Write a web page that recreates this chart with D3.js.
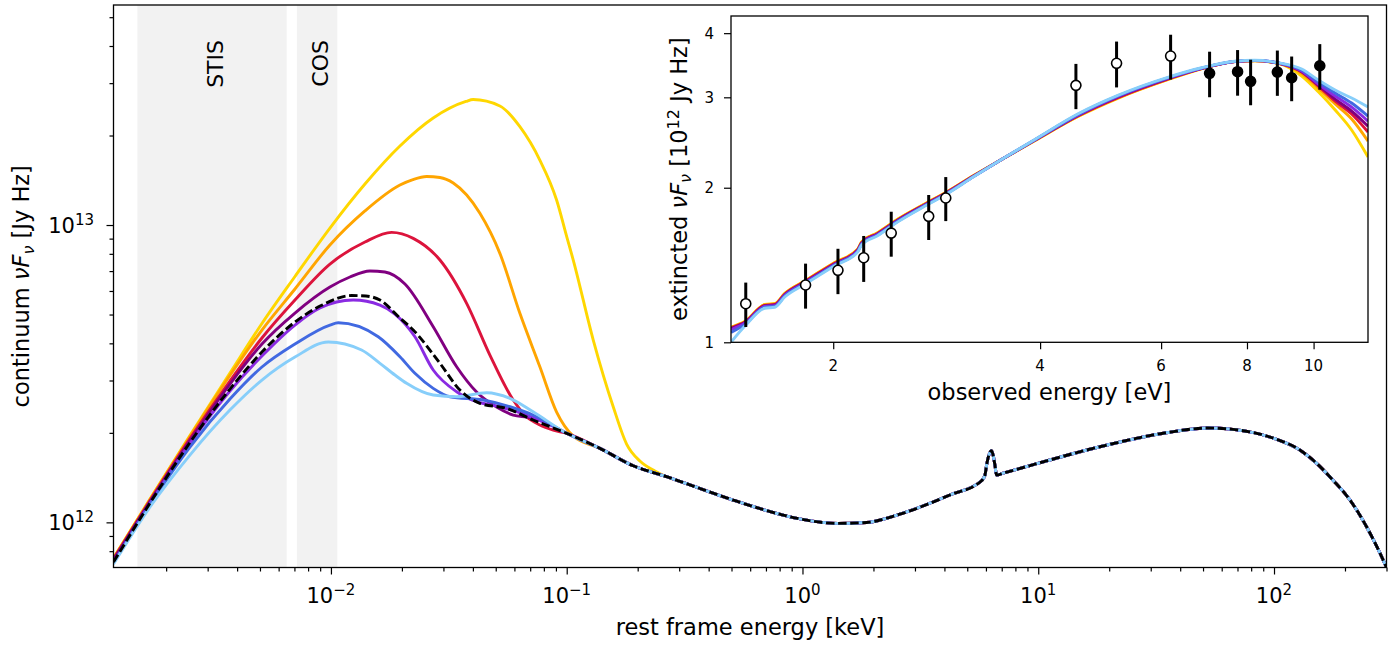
<!DOCTYPE html>
<html>
<head>
<meta charset="utf-8">
<script src="https://cdn.jsdelivr.net/npm/d3@7"></script>
<style>
body { margin: 0; background: #fff; }
svg { font-family: "DejaVu Sans", sans-serif; }
</style>
</head>
<body>
<div id="chart"></div>
<script>
// ---- main panel data: rest frame energy [keV], continuum nuFnu [10^12 Jy Hz]
// shared high-energy part (all models coincide here)
var tail = [[0.1,1.993],[0.1383,1.774],[0.1914,1.55],[0.2653,1.424],[0.311,1.363],[0.507,1.189],
    [0.828,1.058],[1.0,1.023],[1.413,0.992],[1.87,0.999],[2.588,1.066],[4.218,1.236],[5.75,1.38],
    [5.94,1.44],[6.04,1.56],[6.17,1.68],[6.34,1.742],[6.45,1.67],[6.55,1.558],[6.66,1.442],[7.1,1.463],
    [9.96,1.579],[18.25,1.796],[35.0,2.002],[52.5,2.076],[66.9,2.055],[99.8,1.917],[128.7,1.751],
    [151.7,1.579],[177.6,1.388],[210,1.189],[246.9,0.9665],[281.5,0.788],[299.5,0.7074]];

// low-energy part of each model, before it joins the tail
var goldLow = [[0.001196,0.759],[0.001708,1.198],[0.002523,1.959],[0.003729,3.178],[0.005097,4.664],
    [0.007037,6.712],[0.009903,9.77],[0.01394,13.74],[0.01962,18.44],[0.02715,22.9],[0.03737,26.03],
    [0.0401,26.43],[0.05207,25.14],[0.0633,21.41],[0.0769,16.54],[0.0906,12.14],[0.1,9.147],[0.1066,7.626],
    [0.1296,4.104],[0.1575,2.448],[0.1795,1.834],[0.2044,1.608],[0.2366,1.488]];
var orangeLow = [[0.001196,0.7556],[0.001708,1.193],[0.002523,1.944],[0.003729,3.118],[0.005097,4.435],
    [0.007037,6.092],[0.009903,8.565],[0.01394,11.15],[0.01962,13.63],[0.02227,14.22],[0.02546,14.56],
    [0.029,14.45],[0.03302,13.84],[0.04284,10.95],[0.05207,8.03],[0.0633,5.047],[0.07694,3.337],
    [0.09062,2.35],[0.1066,1.951]];
var crimsonLow = [[0.001196,0.7527],[0.001708,1.184],[0.002523,1.914],[0.003729,2.988],[0.005097,4.169],
    [0.007037,5.594],[0.009903,7.392],[0.01394,8.766],[0.01809,9.45],[0.02234,9.02],[0.029,7.626],
    [0.03763,5.453],[0.04723,3.653],[0.05931,2.579],[0.0676,2.266],[0.07694,2.125],[0.08764,2.044]];
var purpleLow = [[0.001196,0.7468],[0.001708,1.175],[0.002523,1.884],[0.003729,2.919],[0.005097,3.979],
    [0.007037,5.058],[0.009903,6.186],[0.01204,6.686],[0.01463,7.004],[0.01694,6.949],[0.0206,6.333],
    [0.02715,4.55],[0.03413,3.337],[0.04148,2.744],[0.05042,2.442],[0.05931,2.296],[0.0676,2.261],
    [0.07694,2.226],[0.08764,2.109]];
var violetLow = [[0.001196,0.7327],[0.001708,1.157],[0.002523,1.841],[0.003729,2.765],[0.005097,3.626],
    [0.007037,4.609],[0.008982,5.259],[0.01243,5.594],[0.01614,5.382],[0.01868,5.019],[0.02271,4.21],
    [0.02715,3.253],[0.03413,2.75],[0.04148,2.545],[0.05207,2.448],[0.0676,2.296],[0.08488,2.125]];
var royalLow = [[0.001196,0.7298],[0.001708,1.148],[0.002523,1.792],[0.003729,2.598],[0.005097,3.33],
    [0.007037,3.979],[0.009903,4.609],[0.01074,4.691],[0.01587,4.21],[0.01962,3.606],[0.02271,3.171],
    [0.02715,2.823],[0.03197,2.646],[0.04424,2.579],[0.05743,2.448],[0.0719,2.296]];
var skyLow = [[0.001196,0.7242],[0.001708,1.126],[0.002523,1.684],[0.003729,2.386],[0.005097,3.01],
    [0.007037,3.597],[0.009739,4.041],[0.01349,3.798],[0.01614,3.426],[0.01868,3.13],[0.02094,2.935],
    [0.02715,2.68],[0.03413,2.646],[0.04573,2.729],[0.05743,2.613],[0.072,2.355]];
var dashedLow = [[0.001196,0.7355],[0.001708,1.161],[0.002523,1.855],[0.003729,2.808],[0.005097,3.74],
    [0.007037,4.718],[0.009133,5.37],[0.01224,5.792],[0.01407,5.77],[0.01614,5.594],[0.01962,4.866],
    [0.02234,4.435],[0.029,3.426],[0.03525,2.786],[0.04284,2.514],[0.05561,2.417],[0.072,2.209]];

// instrument coverage bands [keV]
var bands = [{name: "STIS", lo: 1.51e-3, hi: 6.49e-3}, {name: "COS", lo: 7.17e-3, hi: 1.064e-2}];

// ---- inset data: observed energy [eV], extincted nuFnu [10^12 Jy Hz]
var insetE = [1.42,1.49,1.59,1.645,1.70,1.82,2.01,2.17,2.20,2.32,2.49,2.72,2.91,3.20,3.50,3.93,4.55,5.20,
    6.15,6.87,7.68,8.21,8.90,9.61,10.16,10.75,11.36,12.0];
var insetGold = [1.07,1.10,1.185,1.19,1.245,1.318,1.43,1.518,1.57,1.635,1.742,1.862,1.956,2.112,2.262,2.47,
    2.755,2.99,3.25,3.41,3.52,3.535,3.49,3.30,3.075,2.834,2.591,2.295];
var insetOrange = [1.068,1.098,1.183,1.188,1.243,1.316,1.428,1.516,1.567,1.632,1.739,1.859,1.953,2.110,2.262,
    2.472,2.76,2.995,3.255,3.412,3.52,3.535,3.492,3.337,3.127,2.911,2.721,2.465];
var insetCrimson = [1.066,1.096,1.18,1.185,1.24,1.313,1.425,1.513,1.563,1.628,1.735,1.856,1.95,2.108,2.262,
    2.474,2.765,3.0,3.26,3.414,3.52,3.536,3.494,3.36,3.155,2.95,2.783,2.567];
var insetPurple = [1.063,1.094,1.177,1.182,1.237,1.31,1.421,1.509,1.56,1.625,1.732,1.853,1.947,2.106,2.262,
    2.476,2.77,3.008,3.266,3.416,3.521,3.537,3.496,3.367,3.17,2.976,2.82,2.636];
var insetViolet = [1.058,1.09,1.174,1.179,1.234,1.306,1.418,1.506,1.556,1.621,1.728,1.85,1.944,2.104,2.262,
    2.478,2.775,3.015,3.272,3.418,3.522,3.538,3.498,3.375,3.184,3.017,2.87,2.696];
var insetRoyal = [1.045,1.085,1.17,1.175,1.23,1.302,1.414,1.502,1.552,1.617,1.724,1.846,1.94,2.102,2.262,
    2.48,2.782,3.022,3.278,3.42,3.524,3.54,3.50,3.39,3.213,3.058,2.924,2.757];
var insetSky = [1.00,1.078,1.165,1.17,1.225,1.298,1.41,1.498,1.548,1.613,1.72,1.842,1.936,2.10,2.262,2.484,
    2.79,3.03,3.285,3.425,3.526,3.542,3.502,3.405,3.242,3.099,2.99,2.872];

// photometry: open and filled points with 1-sigma errors
var openE = [1.492,1.823,2.032,2.215,2.429,2.754,2.916,4.510,5.168,6.194];
var openF = [1.189,1.293,1.381,1.461,1.632,1.759,1.910,3.165,3.494,3.610];
var openErr = [0.118,0.13,0.14,0.15,0.164,0.177,0.188,0.32,0.358,0.362];
var filledE = [7.058,7.752,8.098,8.857,9.292,10.21];
var filledF = [3.341,3.365,3.223,3.360,3.275,3.456];
var filledErr = [0.34,0.343,0.328,0.34,0.327,0.352];

var xMajor = [1e-2, 1e-1, 1, 10, 100];
var xMajorExp = ["\u22122", "\u22121", "0", "1", "2"];
var yMajor = [1, 10];
var yMajorExp = ["12", "13"];
var insetXTicks = [2, 4, 6, 8, 10];
var insetYTicks = [1, 2, 3, 4];

var models = [
    {low: goldLow, inset: insetGold, color: "#ffd700"},
    {low: orangeLow, inset: insetOrange, color: "#ffa500"},
    {low: crimsonLow, inset: insetCrimson, color: "#dc143c"},
    {low: purpleLow, inset: insetPurple, color: "#800080"},
    {low: violetLow, inset: insetViolet, color: "#8a2be2"},
    {low: royalLow, inset: insetRoyal, color: "#4169e1"},
    {low: skyLow, inset: insetSky, color: "#87cefa"}
];

function joinTail(low) {
    var last = low[low.length - 1][0];
    return low.concat(tail.filter(function (d) { return d[0] > last; }));
}

// ---- layout
var W = 1400, H = 648;
var m = {left: 113.5, right: 1386.5, top: 5, bottom: 567.5};
var ins = {left: 731, right: 1368, top: 16, bottom: 342.3};
var lw = 2.9;

var svg = d3.select("#chart").append("svg")
    .attr("width", W)
    .attr("height", H);

var x = d3.scaleLog().domain([1.196e-3, 300]).range([m.left, m.right]);
var y = d3.scaleLog().domain([0.705, 54.95]).range([m.bottom, m.top]);

svg.append("clipPath").attr("id", "clipMain").append("rect")
    .attr("x", m.left).attr("y", m.top)
    .attr("width", m.right - m.left).attr("height", m.bottom - m.top);

// instrument bands
svg.append("g").selectAll("rect")
    .data(bands)
    .enter().append("rect")
    .attr("x", function (d) { return x(d.lo); })
    .attr("y", m.top)
    .attr("width", function (d) { return x(d.hi) - x(d.lo); })
    .attr("height", m.bottom - m.top)
    .attr("fill", "#f2f2f2");

svg.append("g").selectAll("text")
    .data(bands)
    .enter().append("text")
    .attr("transform", function (d) {
        return "translate(" + (x(Math.sqrt(d.lo * d.hi)) + 11) + "," + 40 + ") rotate(-90)";
    })
    .attr("text-anchor", "end")
    .attr("font-size", "22px")
    .text(function (d) { return d.name; });

// model curves
var line = d3.line()
    .x(function (d) { return x(d[0]); })
    .y(function (d) { return y(d[1]); })
    .curve(d3.curveMonotoneX);

var curves = svg.append("g").attr("clip-path", "url(#clipMain)");
models.forEach(function (mod) {
    curves.append("path")
        .datum(joinTail(mod.low))
        .attr("d", line)
        .attr("fill", "none")
        .attr("stroke", mod.color)
        .attr("stroke-width", lw);
});
curves.append("path")
    .datum(joinTail(dashedLow))
    .attr("d", line)
    .attr("fill", "none")
    .attr("stroke", "black")
    .attr("stroke-width", lw)
    .attr("stroke-dasharray", "8.5,3.6");

// main axes
var xMinor = [], yMinor = [];
[-3, -2, -1, 0, 1, 2].forEach(function (p) {
    for (var k = 2; k <= 9; k++) {
        var v = k * Math.pow(10, p);
        if (v >= 1.196e-3 && v <= 300) xMinor.push(v);
    }
});
[-1, 0, 1].forEach(function (p) {
    for (var k = 2; k <= 9; k++) {
        var v = k * Math.pow(10, p);
        if (v >= 0.705 && v <= 54.95) yMinor.push(v);
    }
});

function styleAxis(g) {
    g.select(".domain").remove();
    g.selectAll("line").attr("stroke", "black").attr("stroke-width", 1.2);
}

svg.append("g").attr("transform", "translate(0," + m.bottom + ")")
    .call(d3.axisBottom(x).tickValues(xMinor).tickSize(4).tickFormat("")).call(styleAxis);
svg.append("g").attr("transform", "translate(0," + m.bottom + ")")
    .call(d3.axisBottom(x).tickValues(xMajor).tickSize(7).tickFormat("")).call(styleAxis);
svg.append("g").attr("transform", "translate(" + m.left + ",0)")
    .call(d3.axisLeft(y).tickValues(yMinor).tickSize(4).tickFormat("")).call(styleAxis);
svg.append("g").attr("transform", "translate(" + m.left + ",0)")
    .call(d3.axisLeft(y).tickValues(yMajor).tickSize(7).tickFormat("")).call(styleAxis);

svg.append("rect")
    .attr("x", m.left).attr("y", m.top)
    .attr("width", m.right - m.left).attr("height", m.bottom - m.top)
    .attr("fill", "none").attr("stroke", "black").attr("stroke-width", 1.3);

var xl = svg.append("g").selectAll("text")
    .data(xMajor)
    .enter().append("text")
    .attr("x", function (d) { return x(d); })
    .attr("y", 602.7)
    .attr("text-anchor", "middle")
    .attr("font-size", "21px");
xl.append("tspan").text("10");
xl.append("tspan").attr("dy", -8).attr("font-size", "15px")
    .text(function (d, i) { return xMajorExp[i]; });

var yl = svg.append("g").selectAll("text")
    .data(yMajor)
    .enter().append("text")
    .attr("x", 94)
    .attr("y", function (d) { return y(d) + 8; })
    .attr("text-anchor", "end")
    .attr("font-size", "21px");
yl.append("tspan").text("10");
yl.append("tspan").attr("dy", -8.3).attr("font-size", "15px")
    .text(function (d, i) { return yMajorExp[i]; });

svg.append("text")
    .attr("x", (m.left + m.right) / 2)
    .attr("y", 635)
    .attr("text-anchor", "middle")
    .attr("font-size", "22.5px")
    .text("rest frame energy [keV]");

var ylab = svg.append("text")
    .attr("transform", "translate(29," + ((m.top + m.bottom) / 2) + ") rotate(-90)")
    .attr("text-anchor", "middle")
    .attr("font-size", "22.5px");
ylab.append("tspan").text("continuum ");
ylab.append("tspan").attr("font-style", "italic").text("\u03bdF");
ylab.append("tspan").attr("font-style", "italic").attr("font-size", "16px").attr("dy", 4.5).text("\u03bd");
ylab.append("tspan").attr("dy", -4.5).text(" [Jy Hz]");

// ---- inset
var xi = d3.scaleLog().domain([1.42, 12.0]).range([ins.left, ins.right]);
var yi = d3.scaleLog().domain([1, 4.32]).range([ins.bottom, ins.top]);

svg.append("rect")
    .attr("x", ins.left).attr("y", ins.top)
    .attr("width", ins.right - ins.left).attr("height", ins.bottom - ins.top)
    .attr("fill", "white");

svg.append("clipPath").attr("id", "clipInset").append("rect")
    .attr("x", ins.left).attr("y", ins.top)
    .attr("width", ins.right - ins.left).attr("height", ins.bottom - ins.top);

var insetLine = d3.line()
    .x(function (d, i) { return xi(insetE[i]); })
    .y(function (d) { return yi(d); })
    .curve(d3.curveMonotoneX);

var insetCurves = svg.append("g").attr("clip-path", "url(#clipInset)");
models.forEach(function (mod) {
    insetCurves.append("path")
        .datum(mod.inset)
        .attr("d", insetLine)
        .attr("fill", "none")
        .attr("stroke", mod.color)
        .attr("stroke-width", lw);
});

function drawPoints(E, F, err, fill) {
    var g = svg.append("g");
    g.selectAll("line")
        .data(E)
        .enter().append("line")
        .attr("x1", function (d) { return xi(d); })
        .attr("x2", function (d) { return xi(d); })
        .attr("y1", function (d, i) { return yi(F[i] - err[i]); })
        .attr("y2", function (d, i) { return yi(F[i] + err[i]); })
        .attr("stroke", "black")
        .attr("stroke-width", 3);
    g.selectAll("circle")
        .data(E)
        .enter().append("circle")
        .attr("cx", function (d) { return xi(d); })
        .attr("cy", function (d, i) { return yi(F[i]); })
        .attr("r", 5)
        .attr("fill", fill)
        .attr("stroke", "black")
        .attr("stroke-width", 1.6);
}
drawPoints(openE, openF, openErr, "white");
drawPoints(filledE, filledF, filledErr, "black");

svg.append("g").attr("transform", "translate(0," + ins.bottom + ")")
    .call(d3.axisBottom(xi).tickValues(insetXTicks).tickSize(7).tickFormat("")).call(styleAxis);
svg.append("g").attr("transform", "translate(" + ins.left + ",0)")
    .call(d3.axisLeft(yi).tickValues(insetYTicks).tickSize(7).tickFormat("")).call(styleAxis);

svg.append("rect")
    .attr("x", ins.left).attr("y", ins.top)
    .attr("width", ins.right - ins.left).attr("height", ins.bottom - ins.top)
    .attr("fill", "none").attr("stroke", "black").attr("stroke-width", 1.3);

svg.append("g").selectAll("text")
    .data(insetXTicks)
    .enter().append("text")
    .attr("x", function (d) { return xi(d); })
    .attr("y", 370.7)
    .attr("text-anchor", "middle")
    .attr("font-size", "15px")
    .text(function (d) { return d; });

svg.append("g").selectAll("text")
    .data(insetYTicks)
    .enter().append("text")
    .attr("x", 714)
    .attr("y", function (d) { return yi(d) + 5.5; })
    .attr("text-anchor", "end")
    .attr("font-size", "15px")
    .text(function (d) { return d; });

svg.append("text")
    .attr("x", (ins.left + ins.right) / 2)
    .attr("y", 400)
    .attr("text-anchor", "middle")
    .attr("font-size", "22.5px")
    .text("observed energy [eV]");

var iylab = svg.append("text")
    .attr("transform", "translate(686.7," + ((ins.top + ins.bottom) / 2) + ") rotate(-90)")
    .attr("text-anchor", "middle")
    .attr("font-size", "22.5px");
iylab.append("tspan").text("extincted ");
iylab.append("tspan").attr("font-style", "italic").text("\u03bdF");
iylab.append("tspan").attr("font-style", "italic").attr("font-size", "16px").attr("dy", 4.5).text("\u03bd");
iylab.append("tspan").attr("dy", -4.5).text(" [10");
iylab.append("tspan").attr("dy", -8).attr("font-size", "16px").text("12");
iylab.append("tspan").attr("dy", 8).text(" Jy Hz]");
</script>
</body>
</html>
